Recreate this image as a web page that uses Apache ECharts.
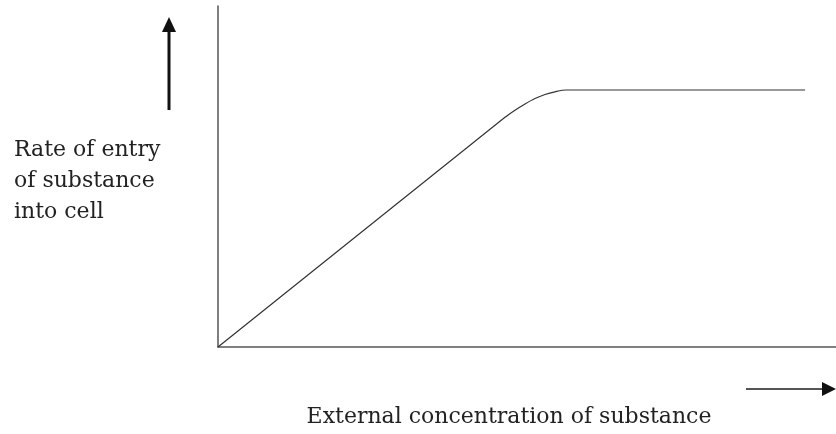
<!DOCTYPE html>
<html>
<head>
<meta charset="utf-8">
<script src="https://cdn.jsdelivr.net/npm/echarts@6/dist/echarts.min.js"></script>
<style>
html,body{margin:0;padding:0;background:#fff;}
#chart{width:836px;height:434px;}
</style>
</head>
<body>
<div id="chart"></div>
<script>
// Data (arbitrary units, axes 0..100)
var concentration = [0, 46.44, 48.06, 49.68, 51.29, 52.91, 54.53, 56.31, 95.0];
var rateOfEntry   = [0, 67.36, 69.44, 71.26, 72.87, 74.05, 74.84, 75.37, 75.37];
var yAxisLabel = ['Rate of entry', 'of substance', 'into cell'];
var xAxisLabel = 'External concentration of substance';

var points = concentration.map(function (c, i) { return [c, rateOfEntry[i]]; });
var font = '"DejaVu Serif", "Liberation Serif", serif';

var chart = echarts.init(document.getElementById('chart'));
chart.setOption({
  animation: false,
  backgroundColor: '#fff',
  grid: { left: 218, top: 6, right: 0, bottom: 87, containLabel: false },
  xAxis: {
    type: 'value', min: 0, max: 100,
    axisLine: { show: true, onZero: false, lineStyle: { color: '#555', width: 1.5 } },
    axisTick: { show: false }, axisLabel: { show: false }, splitLine: { show: false }
  },
  yAxis: {
    type: 'value', min: 0, max: 100,
    axisLine: { show: true, onZero: false, lineStyle: { color: '#555', width: 1.5 } },
    axisTick: { show: false }, axisLabel: { show: false }, splitLine: { show: false }
  },
  series: [{
    type: 'line',
    data: points,
    symbol: 'none',
    smooth: 0.3,
    lineStyle: { color: '#333', width: 1.2 }
  }],
  graphic: [
    // vertical arrow
    { type: 'line', shape: { x1: 169, y1: 110, x2: 169, y2: 28 }, style: { stroke: '#111', lineWidth: 3 } },
    { type: 'polygon', shape: { points: [[169, 17], [162, 32], [176, 32]] }, style: { fill: '#111' } },
    // horizontal arrow
    { type: 'line', shape: { x1: 746, y1: 389, x2: 826, y2: 389 }, style: { stroke: '#555', lineWidth: 2 } },
    { type: 'polygon', shape: { points: [[836, 389], [822, 382], [822, 396]] }, style: { fill: '#111' } },
    // texts
    { type: 'text', left: 14, top: 135, style: { text: yAxisLabel.join('\n'), font: '22px ' + font, fill: '#222', lineHeight: 31 } },
    { type: 'text', x: 509, y: 417, style: { text: xAxisLabel, font: '22px ' + font, fill: '#222', align: 'center', verticalAlign: 'middle' } }
  ]
});
</script>
</body>
</html>
